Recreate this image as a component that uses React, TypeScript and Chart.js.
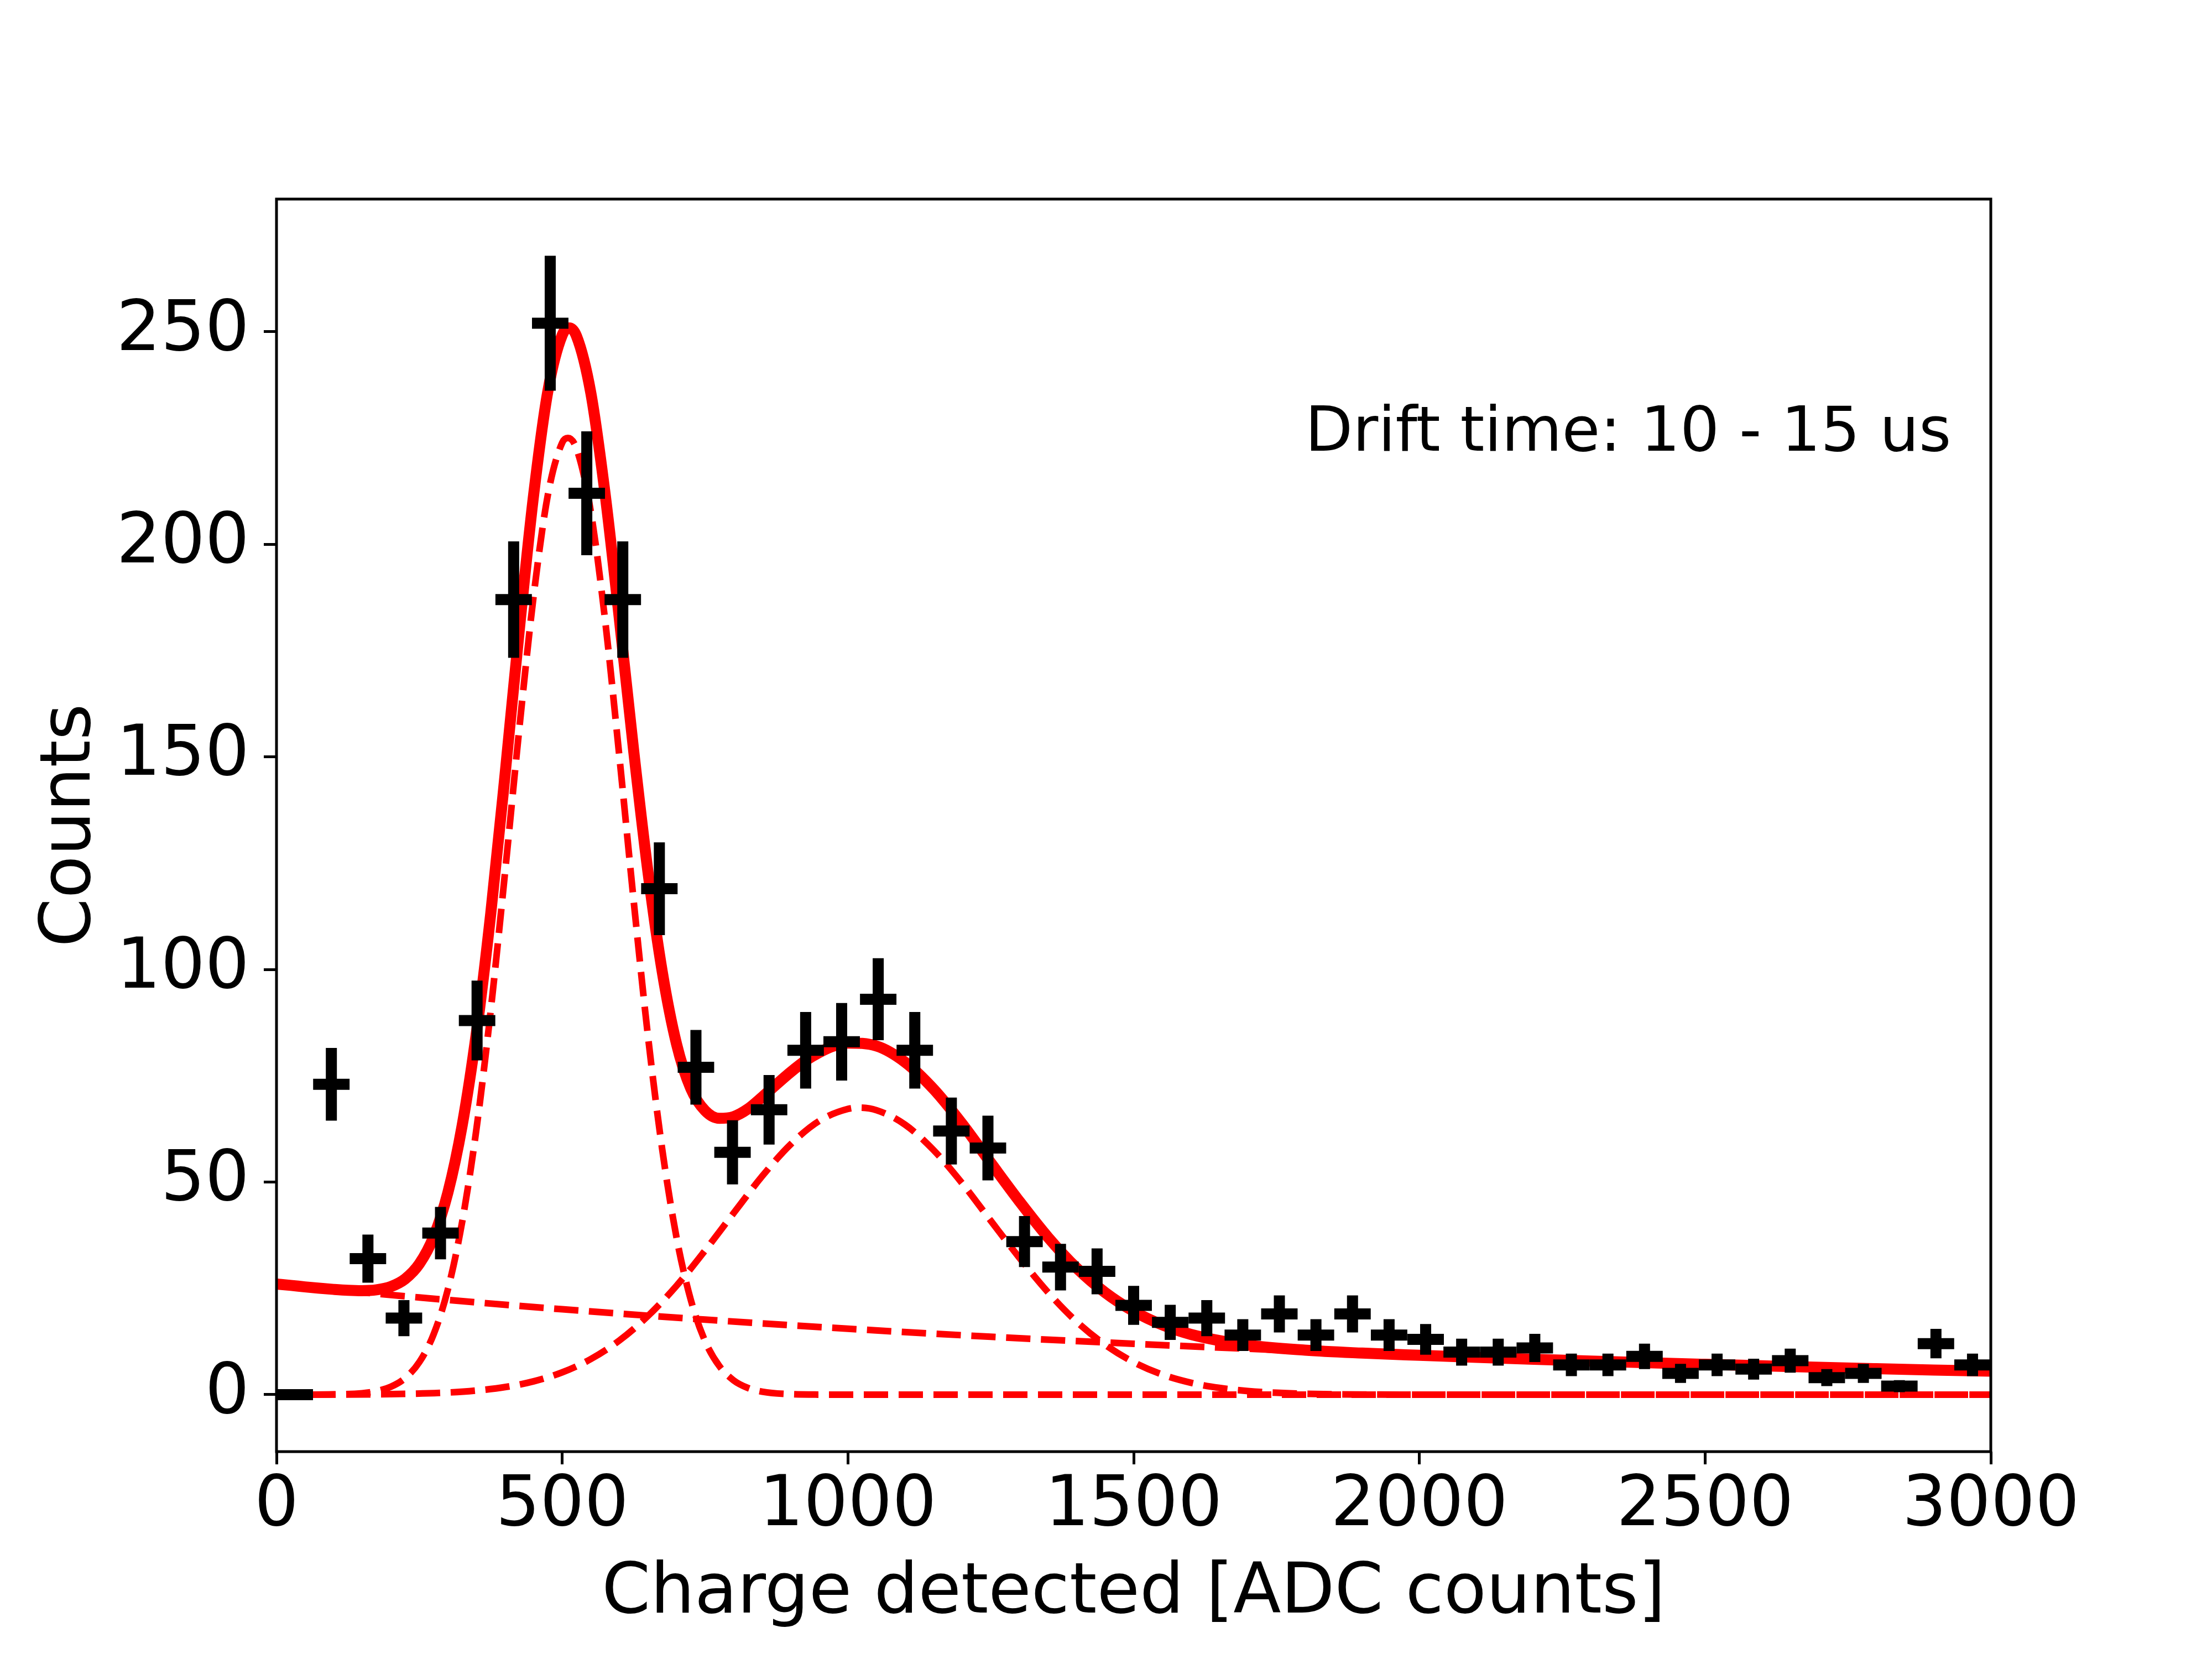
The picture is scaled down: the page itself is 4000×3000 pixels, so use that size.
import { useEffect, useRef } from 'react'
import { Chart, registerables } from 'chart.js'

Chart.register(...registerables);

// histogram: 47 bins over 0..3000 ADC counts
const BIN_CENTERS = [
  32, 96, 160, 223, 287, 351, 415, 479, 543, 606, 670, 734, 798, 862, 926, 989,
  1053, 1117, 1181, 1245, 1309, 1372, 1436, 1500, 1564, 1628, 1691, 1755, 1819, 1883, 1947, 2011,
  2074, 2138, 2202, 2266, 2330, 2394, 2457, 2521, 2585, 2649, 2713, 2777, 2840, 2904, 2968,
];
const BIN_HALF_WIDTH = 31.9;
const COUNTS = [
  0, 73, 32, 18, 38, 88, 187, 252, 212, 187, 119, 77, 57, 67, 81, 83,
  93, 81, 62, 58, 36, 30, 29, 21, 17, 18, 14, 19, 14, 19, 14, 13,
  10, 10, 11, 7, 7, 9, 5, 7, 6, 8, 4, 5, 2, 12, 7,
];

// total fit curve
const FIT_X = [
  0, 25, 50, 75, 100, 125, 150, 175, 200, 225, 250, 275, 300, 325, 350, 375, 400, 425, 450, 475,
  500, 512, 525, 550, 575, 600, 625, 650, 675, 700, 725, 750, 775, 800, 825, 850, 875, 900, 925, 950, 975,
  1000, 1050, 1100, 1150, 1200, 1250, 1300, 1350, 1400, 1450, 1500, 1550, 1600,
  1700, 1800, 1900, 2000, 2100, 2200, 2300, 2400, 2500, 2600, 2700, 2800, 2900, 3000,
];
const FIT_Y = [
  26.0, 25.7, 25.35, 25.04, 24.76, 24.54, 24.45, 24.65, 25.41, 27.2, 30.76, 37.12, 47.57, 63.38, 85.27, 113.24, 145.83, 180.05, 211.64, 236.11,
  249.22, 250.9, 248.98, 235.64, 211.9, 182.5, 151.5, 123.0, 99.5, 82.5, 72.0, 66.8, 65.0, 65.4, 67.2, 70.0, 73.0, 75.9, 78.5, 80.5, 82.0,
  82.7, 82.0, 78.2, 71.85, 63.68, 54.52, 45.48, 37.04, 29.81, 24.03, 19.62, 16.41, 14.18,
  11.65, 10.46, 9.77, 9.25, 8.77, 8.33, 7.91, 7.51, 7.14, 6.78, 6.43, 6.11, 5.80, 5.51,
];

// first peak component
const PEAK1_X = [
  0, 50, 100, 150, 175, 200, 225, 250, 275, 300, 325, 350, 375, 400, 425, 450, 475, 500, 510, 525,
  550, 575, 600, 625, 650, 675, 700, 725, 750, 775, 800, 825, 850, 900, 950, 1000, 3000,
];
const PEAK1_Y = [
  0, 0, 0.05, 0.34, 0.82, 1.84, 3.88, 7.66, 14.2, 24.8, 40.7, 62.6, 90.5, 122.9, 156.8, 187.9, 211.7, 223.9, 225, 222.5,
  207.7, 182.2, 150.1, 116.2, 84.4, 57.7, 37.0, 22.3, 12.6, 6.72, 3.36, 1.58, 0.70, 0.11, 0.01, 0, 0,
];

// second peak component
const PEAK2_X = [
  0, 100, 200, 300, 350, 400, 450, 500, 550, 600, 650, 700, 750, 800, 850, 900, 950, 1000, 1020, 1050,
  1100, 1150, 1200, 1250, 1300, 1350, 1400, 1450, 1500, 1550, 1600, 1650, 1700, 1750, 1800, 1900, 2000, 3000,
];
const PEAK2_Y = [
  0, 0.02, 0.12, 0.5, 0.97, 1.78, 3.13, 5.24, 8.37, 12.74, 18.5, 25.6, 33.9, 42.7, 51.4, 58.9, 64.4, 67.2, 67.5, 66.9,
  63.5, 57.5, 49.7, 40.9, 32.2, 24.1, 17.2, 11.75, 7.65, 4.74, 2.81, 1.59, 0.85, 0.44, 0.21, 0.04, 0.01, 0,
];

// background component
const BG_X = [0, 250, 500, 750, 1000, 1250, 1500, 1750, 2000, 2250, 2500, 2750, 3000];
const BG_Y = [26.0, 22.85, 20.08, 17.64, 15.5, 13.62, 11.97, 10.52, 9.24, 8.12, 7.14, 6.27, 5.51];

const X_TICKS = [0, 500, 1000, 1500, 2000, 2500, 3000];
const Y_TICKS = [0, 50, 100, 150, 200, 250];

const LABEL_TEXT = 'Drift time: 10 - 15 us';
const LABEL_X = 1800;
const LABEL_Y = 222;

const FONT = 'DejaVu Sans';

const zip = (xs: number[], ys: number[]) => xs.map((x, i) => ({ x, y: ys[i] }));

const frameAndLabel = {
  id: 'frameAndLabel',
  afterDatasetsDraw(chart: Chart) {
    const { ctx, chartArea, scales } = chart;
    ctx.save();
    ctx.fillStyle = '#000';
    ctx.font = `112px "${FONT}"`;
    ctx.textAlign = 'left';
    ctx.textBaseline = 'alphabetic';
    ctx.fillText(LABEL_TEXT, scales.x.getPixelForValue(LABEL_X), scales.y.getPixelForValue(LABEL_Y));
    ctx.strokeStyle = '#000';
    ctx.lineWidth = 5;
    ctx.strokeRect(chartArea.left, chartArea.top, chartArea.right - chartArea.left, chartArea.bottom - chartArea.top);
    ctx.restore();
  },
};

export default function App() {
  const canvasRef = useRef<HTMLCanvasElement>(null);
  const chartRef = useRef<Chart | null>(null);

  useEffect(() => {
    if (!canvasRef.current) return;

    // error bars as broken line segments
    const vErr: { x: number; y: number | null }[] = [];
    const hErr: { x: number; y: number | null }[] = [];
    BIN_CENTERS.forEach((x, i) => {
      const c = COUNTS[i];
      const e = Math.sqrt(c);
      vErr.push({ x, y: c - e }, { x, y: c + e }, { x, y: null });
      hErr.push({ x: x - BIN_HALF_WIDTH, y: c }, { x: x + BIN_HALF_WIDTH, y: c }, { x, y: null });
    });

    const dashed = {
      borderColor: '#ff0000',
      borderWidth: 12,
      borderDash: [44, 19],
      pointRadius: 0,
      cubicInterpolationMode: 'monotone' as const,
      order: 3,
    };

    chartRef.current?.destroy();
    chartRef.current = new Chart(canvasRef.current, {
      type: 'line',
      data: {
        datasets: [
          { label: 'xerr', data: hErr, borderColor: '#000', borderWidth: 20, pointRadius: 0, tension: 0, spanGaps: false, order: 0 },
          { label: 'yerr', data: vErr, borderColor: '#000', borderWidth: 20, pointRadius: 0, tension: 0, spanGaps: false, order: 0 },
          { label: 'fit', data: zip(FIT_X, FIT_Y), borderColor: '#ff0000', borderWidth: 20, pointRadius: 0, cubicInterpolationMode: 'monotone', order: 1 },
          { label: 'peak1', data: zip(PEAK1_X, PEAK1_Y), ...dashed },
          { label: 'peak2', data: zip(PEAK2_X, PEAK2_Y), ...dashed },
          { label: 'bg', data: zip(BG_X, BG_Y), ...dashed },
        ],
      },
      options: {
        animation: false,
        responsive: false,
        devicePixelRatio: 1,
        layout: { padding: { top: 360, right: 400, bottom: 0, left: 0 } },
        plugins: { legend: { display: false }, tooltip: { enabled: false } },
        scales: {
          x: {
            type: 'linear',
            min: 0,
            max: 3000,
            afterBuildTicks: (s) => { s.ticks = X_TICKS.map(v => ({ value: v })); },
            afterFit: (s) => { s.height = 375; },
            ticks: { color: '#000', font: { family: FONT, size: 126 }, padding: 2, callback: (v) => String(v), maxRotation: 0, autoSkip: false },
            grid: { drawOnChartArea: false, drawTicks: true, tickLength: 23, tickWidth: 5, tickColor: '#000' },
            border: { display: false },
            title: { display: true, text: 'Charge detected [ADC counts]', color: '#000', font: { family: FONT, size: 126 }, padding: { top: 0, bottom: 41 } },
          },
          y: {
            type: 'linear',
            min: -13.4,
            max: 281.2,
            afterBuildTicks: (s) => { s.ticks = Y_TICKS.map(v => ({ value: v })); },
            afterFit: (s) => { s.width = 500; },
            ticks: { color: '#000', font: { family: FONT, size: 126 }, padding: 26, callback: (v) => String(v), autoSkip: false },
            grid: { drawOnChartArea: false, drawTicks: true, tickLength: 23, tickWidth: 5, tickColor: '#000' },
            border: { display: false },
            title: { display: true, text: 'Counts', color: '#000', font: { family: FONT, size: 126 }, padding: { top: 54, bottom: 0 } },
          },
        },
      },
      plugins: [frameAndLabel],
    });

    return () => {
      chartRef.current?.destroy();
      chartRef.current = null;
    };
  }, []);

  return (
    <div style={{ position: 'absolute', left: 0, top: 0, width: 4000, height: 3000, background: '#fff' }}>
      <canvas ref={canvasRef} width={4000} height={3000} style={{ display: 'block' }} />
    </div>
  );
}
